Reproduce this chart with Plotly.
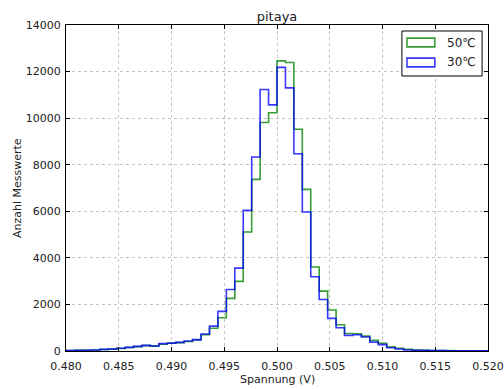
import plotly.graph_objects as go

# Histogram: 50 bins of width 0.0008 between 0.480 and 0.520
bin_start = 0.480
bin_width = 0.0008
n_bins = 50

counts_50C = [20, 25, 35, 45, 65, 80, 110, 150, 190, 230,
              210, 290, 330, 360, 410, 470, 700, 980, 1430, 2260,
              2990, 5110, 7370, 9810, 10230, 12460, 12390, 9520, 6940, 3610,
              2570, 1760, 1130, 750, 740, 640, 460, 330, 185, 120,
              75, 45, 30, 22, 18, 15, 12, 10, 10, 8]
counts_30C = [20, 25, 35, 45, 70, 85, 115, 155, 200, 240,
              215, 315, 340, 370, 430, 490, 730, 1070, 1700, 2640,
              3560, 6040, 8330, 11230, 10570, 12180, 11300, 8470, 5970, 3190,
              2210, 1400, 1000, 670, 700, 600, 380, 275, 140, 85,
              43, 30, 25, 18, 15, 12, 10, 10, 8, 8]

series = [("50℃", counts_50C, "rgba(0,128,0,0.78)"),
          ("30℃", counts_30C, "rgba(0,0,255,0.78)")]

x_ticks = [0.480, 0.485, 0.490, 0.495, 0.500, 0.505, 0.510, 0.515, 0.520]
y_ticks = [0, 2000, 4000, 6000, 8000, 10000, 12000, 14000]

edges = [round(bin_start + i * bin_width, 6) for i in range(n_bins + 1)]

fig = go.Figure()
for name, counts, color in series:
    xs = [edges[0]] + edges
    ys = [0] + counts + [counts[-1]]
    fig.add_trace(go.Scatter(x=xs, y=ys, mode="lines", line_shape="hv",
                             line=dict(color=color, width=1.6),
                             name=name, showlegend=False, hoverinfo="skip"))

font = "DejaVu Sans, Verdana, sans-serif"
axis_common = dict(showline=True, linecolor="black", linewidth=1, mirror="ticks",
                   ticks="inside", ticklen=4, tickcolor="black", automargin=False,
                   showgrid=True, gridcolor="#c4c4c4", griddash="dot", gridwidth=1,
                   zeroline=False, tickfont=dict(family=font, size=11, color="#222"))

fig.update_layout(
    width=504, height=389,
    margin=dict(l=66, r=16, t=25, b=38),
    paper_bgcolor="white", plot_bgcolor="white",
    title=dict(text="pitaya", x=0.5, xref="paper", xanchor="center",
               y=1, yref="paper", yanchor="bottom", pad=dict(b=4),
               font=dict(family=font, size=13, color="#222")),
    xaxis=dict(range=[0.480, 0.520], tickvals=x_ticks, tickformat=".3f",
               ticklabelstandoff=5, **axis_common),
    yaxis=dict(range=[0, 14000], tickvals=y_ticks, tickformat="d",
               ticklabelstandoff=2, **axis_common),
    showlegend=False,
)

# Axis titles
fig.add_annotation(x=0.5, y=-0.0859, xref="paper", yref="paper", text="Spannung (V)",
                   showarrow=False, xanchor="center", yanchor="middle",
                   font=dict(family=font, size=11, color="#222"))
fig.add_annotation(x=-0.116, y=0.5, xref="paper", yref="paper", text="Anzahl Messwerte",
                   showarrow=False, xanchor="center", yanchor="middle", textangle=-90,
                   font=dict(family=font, size=11, color="#222"))

# Manual legend (matplotlib-style box with outlined patches)
shapes = [dict(type="rect", xref="paper", yref="paper", x0=0.796, x1=0.986,
               y0=0.8436, y1=0.9816, line=dict(color="black", width=1),
               fillcolor="white", layer="above")]
legend_rows = [(0.9463, series[0]), (0.8850, series[1])]
for yc, (name, _, color) in legend_rows:
    shapes.append(dict(type="rect", xref="paper", yref="paper", x0=0.808, x1=0.874,
                       y0=yc - 0.0135, y1=yc + 0.0135, line=dict(color=color, width=1.6),
                       fillcolor="rgba(0,0,0,0)", layer="above"))
    fig.add_annotation(x=0.897, y=yc, xref="paper", yref="paper", text=name,
                       showarrow=False, xanchor="left", yanchor="middle",
                       font=dict(family=font, size=12, color="#222"))
fig.update_layout(shapes=shapes)

fig.write_html("out.html")
